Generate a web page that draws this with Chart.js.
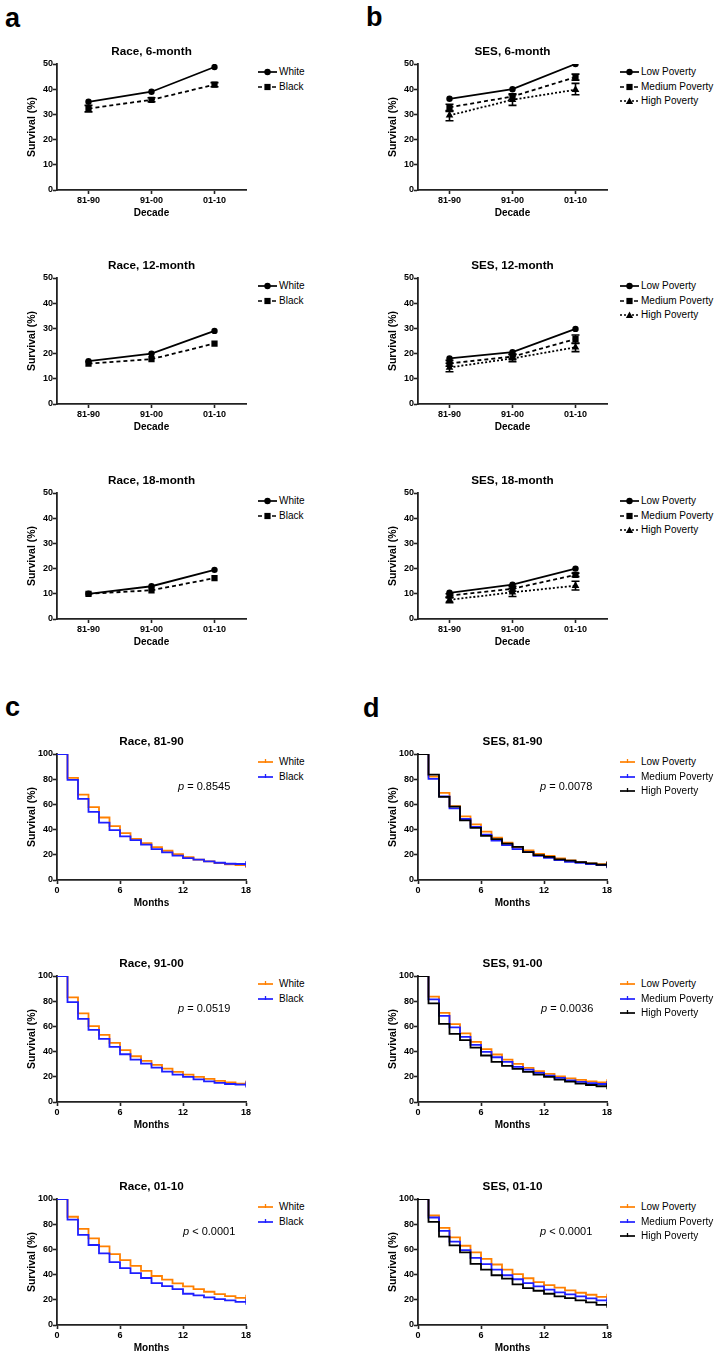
<!DOCTYPE html>
<html>
<head>
<meta charset="utf-8">
<script src="https://cdn.jsdelivr.net/npm/chart.js@4.4.0/dist/chart.umd.min.js"></script>
<style>
  html, body { margin: 0; padding: 0; background: #fff; overflow: hidden; }
  body { font-family: "Liberation Sans", Arial, sans-serif; color: #000; }
  #fig { position: relative; width: 717px; height: 1357px; overflow: hidden; }
  .letter { position: absolute; font-weight: bold; font-size: 27px; line-height: 27px; }
  .legend-row { position: absolute; height: 12px; line-height: 12px; font-size: 10px; white-space: nowrap; }
  .legend-row svg { position: absolute; left: 0; top: 0; }
  .legend-row span { position: absolute; left: 21px; top: 0; }
  .pval { position: absolute; font-size: 11px; line-height: 13px; white-space: nowrap; }
  canvas { position: absolute; }
</style>
</head>
<body>
<div id="fig">
  <div class="letter" style="left:5px; top:5px;">a</div>
  <div class="letter" style="left:366px; top:4px;">b</div>
  <div class="letter" style="left:5px; top:694px;">c</div>
  <div class="letter" style="left:363px; top:695px;">d</div>
</div>
<script>
// --- Decade data (panels a, b) ---
const decades = ['81-90', '91-00', '01-10'];

const race6White = [35.0, 39.0, 48.8];
const race6Black = [32.3, 35.8, 41.8];
const race6BlackErr = [[31.0, 33.6], [35.0, 36.6], [41.0, 42.6]];
const race12White = [17.0, 20.0, 29.0];
const race12Black = [16.0, 17.8, 24.0];
const race18White = [10.0, 13.0, 19.5];
const race18Black = [10.0, 11.4, 16.2];

const ses6Low = [36.2, 40.0, 50.0];
const ses6Med = [32.8, 37.1, 44.8];
const ses6High = [29.6, 35.8, 39.8];
const ses6MedErr = [[31.5, 34.0], [36.0, 38.2], [43.6, 46.0]];
const ses6HighErr = [[27.5, 31.2], [33.6, 37.8], [37.8, 42.3]];

const ses12Low = [18.1, 20.6, 29.8];
const ses12Med = [16.1, 18.8, 25.8];
const ses12High = [14.5, 18.1, 22.5];
const ses12MedErr = [[15.0, 17.3], [17.8, 19.8], [24.0, 27.4]];
const ses12HighErr = [[12.8, 16.2], [16.8, 19.6], [20.8, 24.2]];

const ses18Low = [10.4, 13.6, 20.0];
const ses18Med = [9.3, 12.0, 17.5];
const ses18High = [7.6, 10.6, 13.2];
const ses18MedErr = [[8.6, 10.0], [11.0, 13.0], [16.8, 18.2]];
const ses18HighErr = [[6.5, 8.6], [8.9, 12.2], [11.5, 15.0]];

// --- Kaplan-Meier data (panels c, d), survival % at each month ---
const months = [0, 1, 2, 3, 4, 5, 6, 7, 8, 9, 10, 11, 12, 13, 14, 15, 16, 17, 18];

const km8190White = [100, 81.0, 67.8, 57.8, 49.6, 42.7, 37.2, 32.7, 29.3, 26.1, 23.2, 20.6, 18.2, 16.1, 14.8, 13.5, 12.4, 11.9, 11.9];
const km8190Black = [100, 79.4, 64.4, 54.1, 45.6, 39.6, 34.6, 31.7, 28.0, 24.5, 21.9, 19.3, 17.4, 16.1, 14.8, 13.7, 12.9, 12.7, 12.7];
const km9100White = [100, 83.0, 70.3, 60.2, 53.3, 47.0, 41.1, 36.3, 32.6, 29.4, 26.5, 23.9, 21.8, 19.9, 18.3, 16.7, 15.6, 14.6, 14.6];
const km9100Black = [100, 79.3, 66.0, 57.3, 50.1, 43.8, 37.9, 33.7, 30.5, 27.3, 24.1, 21.8, 19.9, 18.0, 16.4, 15.1, 14.3, 13.8, 13.8];
const km0110White = [100, 85.9, 76.3, 68.8, 62.4, 56.3, 51.5, 46.9, 42.9, 38.9, 36.0, 33.1, 30.7, 28.5, 26.4, 24.5, 22.9, 21.6, 21.6];
const km0110Black = [100, 83.7, 71.5, 63.5, 56.8, 49.9, 45.1, 41.1, 37.3, 33.3, 30.9, 28.5, 24.8, 23.5, 21.9, 20.5, 19.5, 18.4, 18.4];

const kmSes8190Low = [100, 82.0, 69.2, 58.7, 50.5, 44.2, 38.4, 33.7, 29.7, 26.0, 23.4, 20.8, 19.2, 17.1, 15.5, 14.2, 13.2, 12.6, 12.6];
const kmSes8190Med = [100, 80.3, 66.3, 56.8, 48.4, 42.1, 36.0, 31.3, 27.6, 24.5, 22.1, 19.2, 17.6, 15.8, 14.5, 13.7, 12.6, 11.8, 11.8];
const kmSes8190High = [100, 83.7, 66.0, 58.2, 47.4, 41.3, 35.0, 32.4, 28.9, 26.3, 22.1, 19.7, 18.4, 16.3, 15.3, 14.2, 13.2, 12.1, 12.1];
const kmSes9100Low = [100, 83.6, 70.8, 61.8, 54.4, 47.7, 41.9, 37.7, 33.7, 30.2, 27.1, 24.4, 22.3, 20.4, 18.8, 17.5, 16.4, 15.6, 15.6];
const kmSes9100Med = [100, 81.4, 68.4, 59.2, 51.7, 45.4, 39.8, 35.5, 31.8, 27.9, 25.7, 23.1, 21.0, 19.1, 17.2, 15.9, 14.9, 14.3, 14.3];
const kmSes9100High = [100, 78.2, 62.0, 54.1, 49.1, 43.2, 36.9, 31.8, 28.6, 26.3, 23.9, 21.8, 19.9, 17.8, 16.2, 14.6, 13.5, 12.5, 12.5];
const kmSes0110Low = [100, 86.9, 77.1, 69.6, 62.9, 57.6, 52.5, 48.0, 44.0, 40.3, 37.1, 34.1, 31.7, 29.6, 27.5, 25.6, 24.0, 22.4, 22.4];
const kmSes0110Med = [100, 85.3, 74.7, 66.1, 59.5, 53.3, 48.3, 44.0, 39.5, 36.3, 33.3, 30.7, 28.0, 25.9, 24.3, 22.7, 21.1, 19.5, 19.5];
const kmSes0110High = [100, 81.9, 70.1, 63.2, 57.6, 48.5, 44.0, 39.5, 36.8, 32.3, 29.3, 27.2, 24.8, 22.7, 21.3, 19.5, 17.9, 16.0, 16.0];

// --- Layout ---
const PLOT_W = 189, PLOT_H = 126;
const PAD_L = 50, PAD_T = 32, PAD_R = 11, PAD_B = 40;
const ROW_GAP = 14.5;
const LINE_W = 1.8;

Chart.defaults.font.family = "'Liberation Sans', Arial, sans-serif";
Chart.defaults.color = '#000';

const fig = document.getElementById('fig');

const ORANGE = '#ff8000';
const BLUE = '#1f1fff';
const BLACK = '#000000';

const lineStyles = {
  solid:  { borderDash: [],     pointStyle: 'circle',   pointRadius: 3.2 },
  dashed: { borderDash: [4, 3], pointStyle: 'rect',     pointRadius: 4.4 },
  dotted: { borderDash: [2, 2], pointStyle: 'triangle', pointRadius: 4.4 }
};

// error bars drawn under the markers, using the chart's own y scale
const errorBars = {
  id: 'errorBars',
  beforeDatasetsDraw(chart) {
    const ctx = chart.ctx;
    const yScale = chart.scales.y;
    chart.data.datasets.forEach((ds, i) => {
      if (!ds.errors) return;
      const meta = chart.getDatasetMeta(i);
      ctx.save();
      ctx.strokeStyle = '#000';
      ctx.lineWidth = 1.6;
      ds.errors.forEach((range, j) => {
        const x = meta.data[j].x;
        const lo = yScale.getPixelForValue(range[0]);
        const hi = yScale.getPixelForValue(range[1]);
        ctx.beginPath();
        ctx.moveTo(x, lo); ctx.lineTo(x, hi);
        ctx.moveTo(x - 4, lo); ctx.lineTo(x + 4, lo);
        ctx.moveTo(x - 4, hi); ctx.lineTo(x + 4, hi);
        ctx.stroke();
      });
      ctx.restore();
    });
  }
};

function addCanvas(plotLeft, plotTop) {
  const c = document.createElement('canvas');
  c.width = PAD_L + PLOT_W + PAD_R;
  c.height = PAD_T + PLOT_H + PAD_B;
  c.style.left = (plotLeft - PAD_L) + 'px';
  c.style.top = (plotTop - PAD_T) + 'px';
  c.style.width = c.width + 'px';
  c.style.height = c.height + 'px';
  fig.appendChild(c);
  return c;
}

function axisCommon() {
  return {
    border: { display: true, color: '#222', width: 1.8 },
    grid: { drawOnChartArea: false, drawTicks: true, tickLength: 4, tickColor: '#222', tickWidth: 1.6 },
  };
}

function makeOptions(title, xScale, xTitle, yMax, yStep) {
  const x = Object.assign(axisCommon(), xScale);
  x.ticks = Object.assign({ font: { size: 9, weight: 'bold' }, color: '#000', padding: 1, maxRotation: 0, autoSkip: false }, xScale.ticks || {});
  x.title = { display: true, text: xTitle, font: { size: 10, weight: 'bold' }, color: '#000', padding: { top: 0, bottom: 11 } };
  x.afterFit = s => { s.height = PAD_B; };

  const y = Object.assign(axisCommon(), {
    min: 0, max: yMax,
    ticks: { stepSize: yStep, font: { size: 9, weight: 'bold' }, color: '#000', padding: 0 },
    title: { display: true, text: 'Survival (%)', font: { size: 10.5, weight: 'bold' }, color: '#000', padding: { top: 18.7, bottom: 0 } },
    afterFit: s => { s.width = PAD_L; }
  });

  return {
    responsive: false,
    animation: false,
    events: [],
    layout: { padding: { left: 0, top: 0, right: PAD_R, bottom: 0 } },
    plugins: {
      legend: { display: false },
      tooltip: { enabled: false },
      title: {
        display: true, text: title, fullSize: false, color: '#000',
        font: { size: 11.7, weight: 'bold', lineHeight: 1.2 },
        padding: { top: 13, bottom: PAD_T - 13 - 11.7 * 1.2 }
      }
    },
    scales: { x, y }
  };
}

// legend as html rows, built from the datasets
function iconSvg(item, w) {
  const dash = item.borderDash && item.borderDash.length ? ` stroke-dasharray="${item.borderDash.join(',')}"` : '';
  const cx = w / 2, cy = 6;
  let m = '';
  if (item.pointStyle === 'circle') m = `<circle cx="${cx}" cy="${cy}" r="3.2" fill="#000"/>`;
  else if (item.pointStyle === 'rect') m = `<rect x="${cx - 3.1}" y="${cy - 3.1}" width="6.2" height="6.2" fill="#000"/>`;
  else if (item.pointStyle === 'triangle') m = `<polygon points="${cx},${cy - 3.6} ${cx + 3.6},${cy + 3} ${cx - 3.6},${cy + 3}" fill="#000"/>`;
  else m = `<line x1="${cx}" y1="${cy - 3}" x2="${cx}" y2="${cy + 1}" stroke="${item.borderColor}" stroke-width="1.3"/>`;
  return `<svg width="${w}" height="12" viewBox="0 0 ${w} 12"><line x1="0" y1="6" x2="${w}" y2="6" stroke="${item.borderColor}" stroke-width="1.7"${dash}/>${m}</svg>`;
}

function addLegend(datasets, left, firstRowY, iconW) {
  datasets.forEach((ds, i) => {
    const row = document.createElement('div');
    row.className = 'legend-row';
    row.style.left = left + 'px';
    row.style.top = (firstRowY + i * ROW_GAP - 6) + 'px';
    row.innerHTML = iconSvg(ds, iconW) + `<span>${ds.label}</span>`;
    fig.appendChild(row);
  });
}

function addPValue(html, left, centerY) {
  const d = document.createElement('div');
  d.className = 'pval';
  d.style.left = left + 'px';
  d.style.top = (centerY - 6.5) + 'px';
  d.innerHTML = html;
  fig.appendChild(d);
}

// --- Decade line charts ---
function decadeChart(plotLeft, plotTop, title, series, legendLeft) {
  const datasets = series.map(([label, values, style, errors]) => Object.assign({
    label,
    data: values,
    errors,
    borderColor: BLACK,
    backgroundColor: BLACK,
    pointBackgroundColor: BLACK,
    pointBorderColor: BLACK,
    pointBorderWidth: 0,
    borderWidth: LINE_W,
    fill: false,
    tension: 0
  }, lineStyles[style]));

  new Chart(addCanvas(plotLeft, plotTop), {
    type: 'line',
    data: { labels: decades, datasets },
    options: makeOptions(title, { type: 'category', offset: true }, 'Decade', 50, 10),
    plugins: [errorBars]
  });
  addLegend(datasets, legendLeft, plotTop + 8, 19);
}

// --- Kaplan-Meier step charts ---
function kmChart(plotLeft, plotTop, title, series, legendLeft, pText, pLeft) {
  const n = series.length;
  const datasets = series.map(([label, values, color], k) => ({
    label,
    data: months.map((m, i) => ({ x: m, y: values[i] })),
    borderColor: color,
    backgroundColor: color,
    borderWidth: LINE_W,
    stepped: 'before',
    fill: false,
    order: n - k,
    pointStyle: 'line',
    rotation: 90,
    pointBorderColor: color,
    pointBorderWidth: 1.3,
    pointRadius: ctx => (ctx.dataIndex === months.length - 1 ? 3 : 0)
  }));

  new Chart(addCanvas(plotLeft, plotTop), {
    type: 'line',
    data: { datasets },
    options: makeOptions(title, { type: 'linear', min: 0, max: 18, ticks: { stepSize: 6 } }, 'Months', 100, 20)
  });
  addLegend(datasets, legendLeft, plotTop + 8, 15);
  addPValue(pText, pLeft, plotTop + 32);
}

const LEFT_X = 57, RIGHT_X = 418;

decadeChart(LEFT_X, 64, 'Race, 6-month', [
  ['White', race6White, 'solid'],
  ['Black', race6Black, 'dashed', race6BlackErr]
], 258);
decadeChart(LEFT_X, 278, 'Race, 12-month', [
  ['White', race12White, 'solid'],
  ['Black', race12Black, 'dashed']
], 258);
decadeChart(LEFT_X, 493, 'Race, 18-month', [
  ['White', race18White, 'solid'],
  ['Black', race18Black, 'dashed']
], 258);

decadeChart(RIGHT_X, 64, 'SES, 6-month', [
  ['Low Poverty', ses6Low, 'solid'],
  ['Medium Poverty', ses6Med, 'dashed', ses6MedErr],
  ['High Poverty', ses6High, 'dotted', ses6HighErr]
], 620);
decadeChart(RIGHT_X, 278, 'SES, 12-month', [
  ['Low Poverty', ses12Low, 'solid'],
  ['Medium Poverty', ses12Med, 'dashed', ses12MedErr],
  ['High Poverty', ses12High, 'dotted', ses12HighErr]
], 620);
decadeChart(RIGHT_X, 493, 'SES, 18-month', [
  ['Low Poverty', ses18Low, 'solid'],
  ['Medium Poverty', ses18Med, 'dashed', ses18MedErr],
  ['High Poverty', ses18High, 'dotted', ses18HighErr]
], 620);

kmChart(LEFT_X, 754, 'Race, 81-90', [
  ['White', km8190White, ORANGE],
  ['Black', km8190Black, BLUE]
], 258, '<i>p</i> = 0.8545', 178);
kmChart(LEFT_X, 976, 'Race, 91-00', [
  ['White', km9100White, ORANGE],
  ['Black', km9100Black, BLUE]
], 258, '<i>p</i> = 0.0519', 178);
kmChart(LEFT_X, 1199, 'Race, 01-10', [
  ['White', km0110White, ORANGE],
  ['Black', km0110Black, BLUE]
], 258, '<i>p</i> &lt; 0.0001', 183);

kmChart(RIGHT_X, 754, 'SES, 81-90', [
  ['Low Poverty', kmSes8190Low, ORANGE],
  ['Medium Poverty', kmSes8190Med, BLUE],
  ['High Poverty', kmSes8190High, BLACK]
], 620, '<i>p</i> = 0.0078', 540);
kmChart(RIGHT_X, 976, 'SES, 91-00', [
  ['Low Poverty', kmSes9100Low, ORANGE],
  ['Medium Poverty', kmSes9100Med, BLUE],
  ['High Poverty', kmSes9100High, BLACK]
], 620, '<i>p</i> = 0.0036', 541);
kmChart(RIGHT_X, 1199, 'SES, 01-10', [
  ['Low Poverty', kmSes0110Low, ORANGE],
  ['Medium Poverty', kmSes0110Med, BLUE],
  ['High Poverty', kmSes0110High, BLACK]
], 620, '<i>p</i> &lt; 0.0001', 540);
</script>
</body>
</html>
